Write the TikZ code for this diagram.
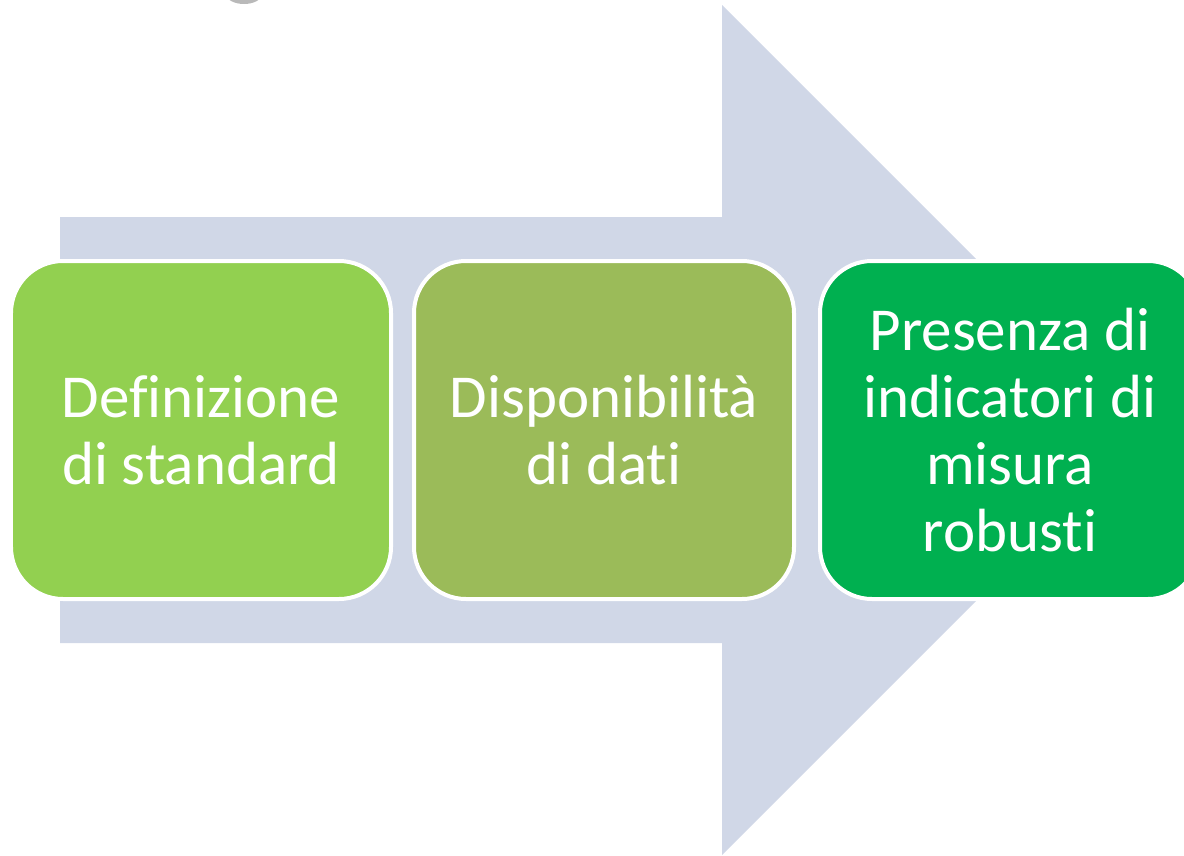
\documentclass[tikz,border=0pt]{standalone}
\usepackage{fontspec}
\setmainfont[Ligatures=NoCommon]{Carlito}
\definecolor{arrowfill}{HTML}{D0D7E7}
\definecolor{gA}{HTML}{92D050}
\definecolor{gB}{HTML}{9BBB59}
\definecolor{gC}{HTML}{00B050}
\tikzset{
  stepbox/.style={draw=white, line width=4bp, rounded corners=52bp,
    minimum width=380bp, minimum height=338bp, inner sep=0pt,
    text=white, align=center, font=\fontsize{61bp}{67bp}\selectfont}
}
\begin{document}
\begin{tikzpicture}[x=1bp,y=-1bp]
\useasboundingbox (0,0) rectangle (1184,856);
\clip (0,0) rectangle (1184,856);
% small cut-off shape at top
\fill[gray!55] (244,-6) ellipse (18 and 10);
% big arrow
\fill[arrowfill] (60,217) -- (722,217) -- (722,5) -- (1147,430) -- (722,855) -- (722,643) -- (60,643) -- cycle;
% boxes
\node[stepbox, fill=gA] (b1) at (201,430) {Definizione\\di standard};
\node[stepbox, fill=gB] (b2) at (604,430) {Disponibilità\\di dati};
\node[stepbox, fill=gC] (b3) at (1010,430) {Presenza di\\indicatori di\\misura\\robusti};
\end{tikzpicture}
\end{document}
